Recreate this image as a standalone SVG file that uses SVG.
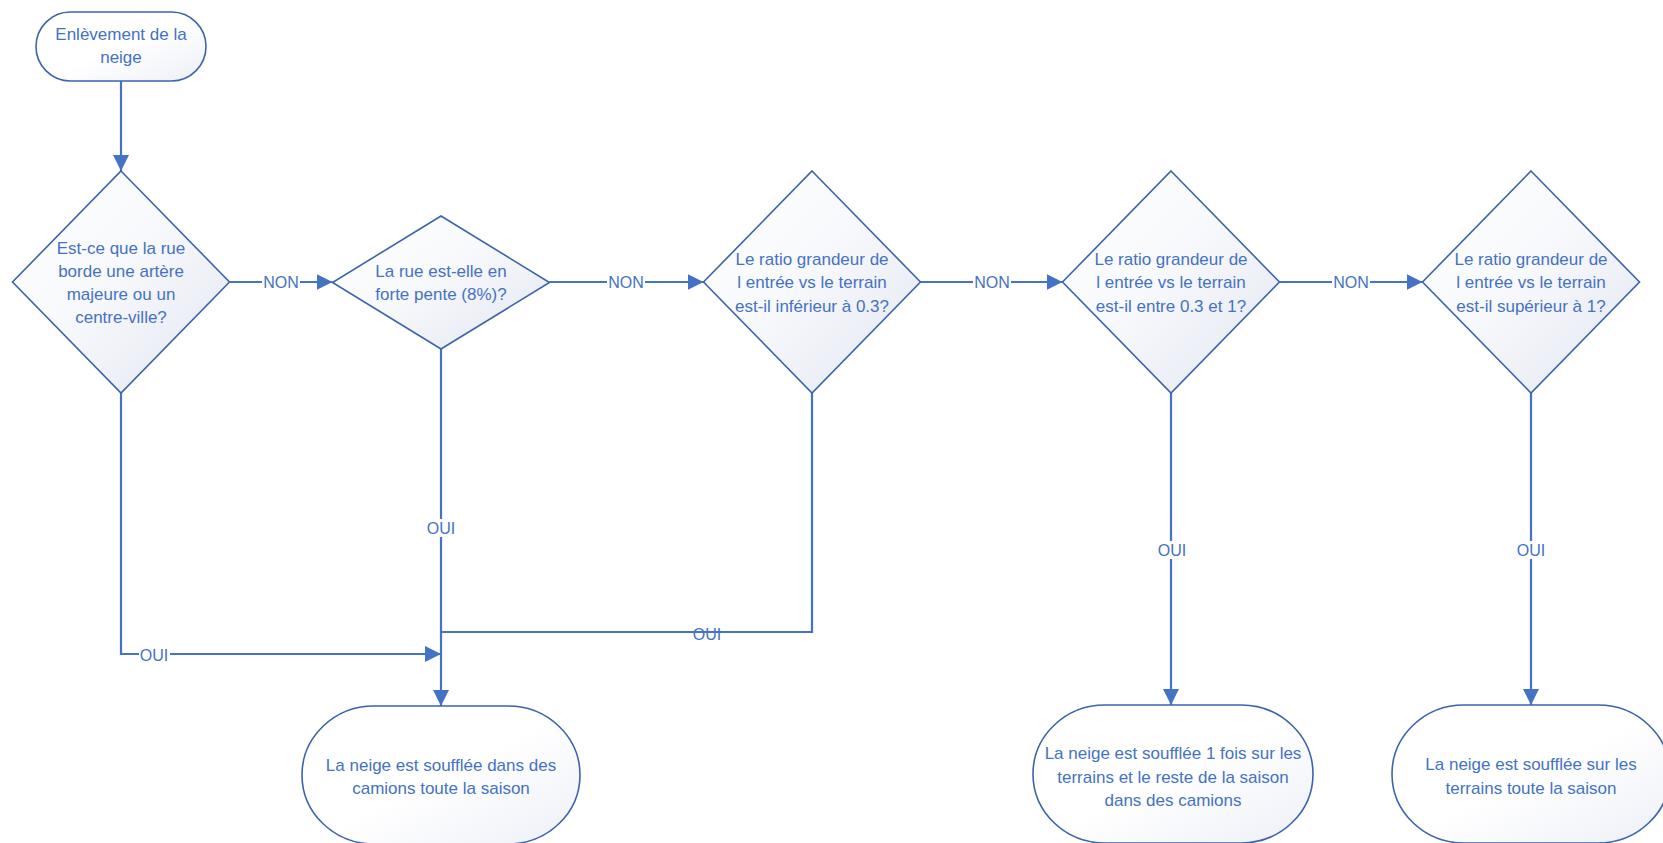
<svg xmlns="http://www.w3.org/2000/svg" width="1663" height="843" viewBox="0 0 1663 843">
<defs>
<linearGradient id="g" x1="0" y1="0" x2="1" y2="1">
<stop offset="0" stop-color="#ffffff"/>
<stop offset="0.45" stop-color="#f8f9fc"/>
<stop offset="1" stop-color="#e3e6f2"/>
</linearGradient>
<linearGradient id="g2" x1="0" y1="0" x2="1" y2="1">
<stop offset="0" stop-color="#ffffff"/>
<stop offset="0.5" stop-color="#ffffff"/>
<stop offset="1" stop-color="#eef0f8"/>
</linearGradient>
<marker id="arr" markerUnits="userSpaceOnUse" markerWidth="17" markerHeight="17" viewBox="0 0 17 17" refX="16" refY="8.5" orient="auto">
<path d="M0,0.5 L16,8.5 L0,16.5 Z" fill="#4472c4"/>
</marker>
<style>
.shape{stroke:#3b64ad;stroke-width:1.6;fill:url(#g)}
.term{stroke:#3b64ad;stroke-width:1.6;fill:url(#g2)}
.t{font-family:"Liberation Sans",Arial,sans-serif;font-size:17px;fill:#4472c4;text-anchor:middle}
.lbl{font-family:"Liberation Sans",Arial,sans-serif;font-size:16px;fill:#4472c4;text-anchor:middle}
.c{stroke:#4472c4;stroke-width:2.2;fill:none}
.bg{fill:#ffffff}
</style>
</defs>
<rect width="1663" height="843" fill="#ffffff"/>

<g id="connectors">
<path class="c" d="M121,81 V171" marker-end="url(#arr)"/>
<path class="c" d="M229.5,282 H332.5" marker-end="url(#arr)"/>
<path class="c" d="M549.5,282 H703.5" marker-end="url(#arr)"/>
<path class="c" d="M920.5,282 H1062.5" marker-end="url(#arr)"/>
<path class="c" d="M1279.5,282 H1422.5" marker-end="url(#arr)"/>
<path class="c" d="M121,393 V654 H441" marker-end="url(#arr)"/>
<path class="c" d="M441,349 V706" marker-end="url(#arr)"/>
<path class="c" d="M812,393 V632 H441"/>
<path class="c" d="M1171,393 V705" marker-end="url(#arr)"/>
<path class="c" d="M1531,393 V705" marker-end="url(#arr)"/>
<rect class="bg" x="262" y="274" width="38" height="17"/>
<text class="lbl" x="281" y="288">NON</text>
<rect class="bg" x="607" y="274" width="38" height="17"/>
<text class="lbl" x="626" y="288">NON</text>
<rect class="bg" x="973" y="274" width="38" height="17"/>
<text class="lbl" x="992" y="288">NON</text>
<rect class="bg" x="1332" y="274" width="38" height="17"/>
<text class="lbl" x="1351" y="288">NON</text>
<rect class="bg" x="139" y="647" width="31" height="17"/>
<text class="lbl" x="154" y="661">OUI</text>
<rect class="bg" x="426" y="519" width="31" height="18"/>
<text class="lbl" x="441" y="534">OUI</text>
<text class="lbl" x="707" y="640">OUI</text>
<rect class="bg" x="1156" y="541" width="31" height="18"/>
<text class="lbl" x="1172" y="556">OUI</text>
<rect class="bg" x="1515" y="541" width="31" height="18"/>
<text class="lbl" x="1531" y="556">OUI</text>
</g>

<g id="start">
<rect class="term" x="36" y="12" width="170" height="69" rx="34.5" ry="34.5"/>
<text class="t" x="121" y="40">Enlèvement de la</text>
<text class="t" x="121" y="63">neige</text>
</g>

<g id="d1">
<polygon class="shape" points="121,171 229.5,282 121,393 12.5,282"/>
<text class="t" x="121" y="254">Est-ce que la rue</text>
<text class="t" x="121" y="277">borde une artère</text>
<text class="t" x="121" y="300">majeure ou un</text>
<text class="t" x="121" y="323">centre-ville?</text>
</g>

<g id="d2">
<polygon class="shape" points="441,216 549.5,282.5 441,349 332.5,282.5"/>
<text class="t" x="441" y="277">La rue est-elle en</text>
<text class="t" x="441" y="300">forte pente (8%)?</text>
</g>

<g id="d3">
<polygon class="shape" points="812,171 920.5,282 812,393 703.5,282"/>
<text class="t" x="812" y="265">Le ratio grandeur de</text>
<text class="t" x="812" y="288">l entrée vs le terrain</text>
<text class="t" x="812" y="312">est-il inférieur à 0.3?</text>
</g>

<g id="d4">
<polygon class="shape" points="1171,171 1279.5,282 1171,393 1062.5,282"/>
<text class="t" x="1171" y="265">Le ratio grandeur de</text>
<text class="t" x="1171" y="288">l entrée vs le terrain</text>
<text class="t" x="1171" y="312">est-il entre 0.3 et 1?</text>
</g>

<g id="d5">
<polygon class="shape" points="1531,171 1639.5,282 1531,393 1422.5,282"/>
<text class="t" x="1531" y="265">Le ratio grandeur de</text>
<text class="t" x="1531" y="288">l entrée vs le terrain</text>
<text class="t" x="1531" y="312">est-il supérieur à 1?</text>
</g>

<g id="e1">
<rect class="term" x="302" y="706" width="278" height="138" rx="72" ry="69"/>
<text class="t" x="441" y="771">La neige est soufflée dans des</text>
<text class="t" x="441" y="794">camions toute la saison</text>
</g>

<g id="e2">
<rect class="term" x="1033" y="705" width="280" height="138" rx="72" ry="69"/>
<text class="t" x="1173" y="759">La neige est soufflée 1 fois sur les</text>
<text class="t" x="1173" y="783">terrains et le reste de la saison</text>
<text class="t" x="1173" y="806">dans des camions</text>
</g>

<g id="e3">
<rect class="term" x="1392" y="705" width="278" height="138" rx="72" ry="69"/>
<text class="t" x="1531" y="770">La neige est soufflée sur les</text>
<text class="t" x="1531" y="794">terrains toute la saison</text>
</g>
</svg>
